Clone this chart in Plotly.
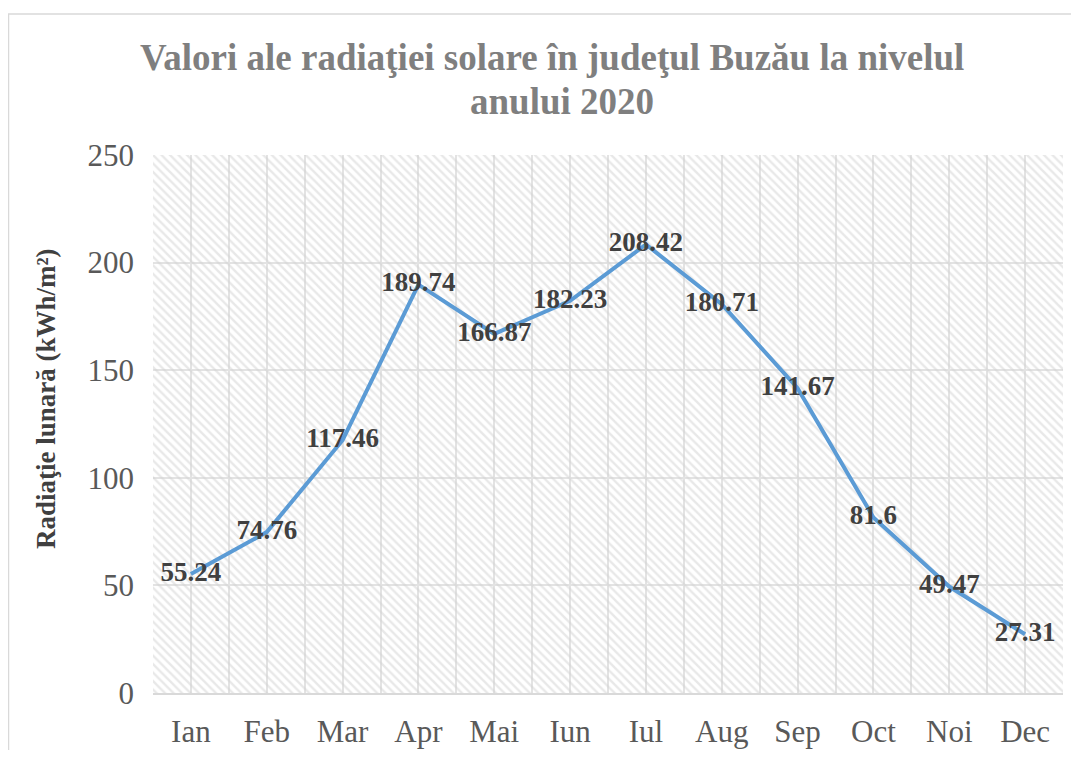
import plotly.graph_objects as go

months = ["Ian", "Feb", "Mar", "Apr", "Mai", "Iun", "Iul", "Aug", "Sep", "Oct", "Noi", "Dec"]
values = [55.24, 74.76, 117.46, 189.74, 166.87, 182.23, 208.42, 180.71, 141.67, 81.6, 49.47, 27.31]
y_ticks = [0, 50, 100, 150, 200, 250]

title_line1 = "Valori ale radiaţiei solare în judeţul Buzău la nivelul"
title_line2 = "anului 2020"
y_title = "Radiaţie lunară (kWh/m²)"

SERIF = "Liberation Serif, Times New Roman, serif"
OFF = 8  # page body margin
W, H = 1079 - 2 * OFF, 758 - 2 * OFF
# plot area in screen px: x 153..1063, y 155..693
L = 153 - OFF
R = W - (1063 - OFF)
T = 155 - OFF
B = H - (693 - OFF)
pw, ph = W - L - R, H - T - B


def px_x(sx):
    return (sx - OFF - L) / pw


def px_y(sy):
    return (H - B - (sy - OFF)) / ph


idx = list(range(len(months)))

fig = go.Figure()

# hatched plot-area background (on hidden unit axes)
fig.add_trace(go.Scatter(
    x=[0, 1, 1, 0, 0], y=[0, 0, 1, 1, 0],
    xaxis="x", yaxis="y",
    mode="lines", line=dict(width=0, color="rgba(0,0,0,0)"),
    fill="toself", fillcolor="rgba(0,0,0,0)",
    fillpattern=dict(shape="\\", fgcolor="#d2d2d2", size=6, solidity=0.4),
    hoverinfo="skip", showlegend=False,
))

fig.add_trace(go.Scatter(
    x=idx, y=values, xaxis="x2", yaxis="y2",
    mode="lines+text",
    line=dict(color="#5B9BD5", width=4),
    text=[f"{v:g}" for v in values],
    textposition="middle center",
    textfont=dict(family=SERIF, size=27, color="#404040", weight="bold"),
    showlegend=False,
))

fig.update_layout(
    width=W, height=H,
    margin=dict(l=L, r=R, t=T, b=B, autoexpand=False),
    paper_bgcolor="white", plot_bgcolor="white",
    xaxis=dict(range=[0, 1], visible=False, fixedrange=True),
    yaxis=dict(range=[0, 1], visible=False, fixedrange=True),
    xaxis2=dict(
        overlaying="x", anchor="y2",
        range=[-0.5, len(months) - 0.5],
        tickmode="array", tickvals=idx, ticktext=months,
        showgrid=True, gridcolor="#e3e3e3", gridwidth=1.5,
        minor=dict(dtick=0.5, tick0=-0.5, showgrid=True, gridcolor="#e3e3e3", gridwidth=1.5),
        showline=True, linecolor="#d9d9d9", linewidth=2,
        ticks="", zeroline=False,
        tickfont=dict(family=SERIF, size=31, color="#595959"),
        ticklabelstandoff=10,
    ),
    yaxis2=dict(
        overlaying="y", anchor="x2",
        range=[0, 250], tickmode="array", tickvals=y_ticks,
        showgrid=True, gridcolor="#e3e3e3", gridwidth=1.5,
        zeroline=False, showline=False, ticks="",
        tickfont=dict(family=SERIF, size=31, color="#595959"),
        ticklabelstandoff=18,
    ),
    annotations=[
        dict(text=title_line1, xref="paper", yref="paper", x=px_x(552), y=px_y(58),
             xanchor="center", yanchor="middle", showarrow=False,
             font=dict(family=SERIF, size=37, color="#7F7F7F", weight="bold")),
        dict(text=title_line2, xref="paper", yref="paper", x=px_x(562), y=px_y(101),
             xanchor="center", yanchor="middle", showarrow=False,
             font=dict(family=SERIF, size=37, color="#7F7F7F", weight="bold")),
        dict(text=y_title, xref="paper", yref="paper", x=px_x(46), y=px_y(399),
             xanchor="center", yanchor="middle", showarrow=False, textangle=-90,
             font=dict(family=SERIF, size=27, color="#404040", weight="bold")),
    ],
    shapes=[dict(
        type="rect", xref="paper", yref="paper",
        x0=px_x(8.5), x1=px_x(1100),
        y0=px_y(780), y1=px_y(14),
        line=dict(color="#d9d9d9", width=1.5), fillcolor="rgba(0,0,0,0)", layer="below",
    )],
)

fig.write_html("out.html")
